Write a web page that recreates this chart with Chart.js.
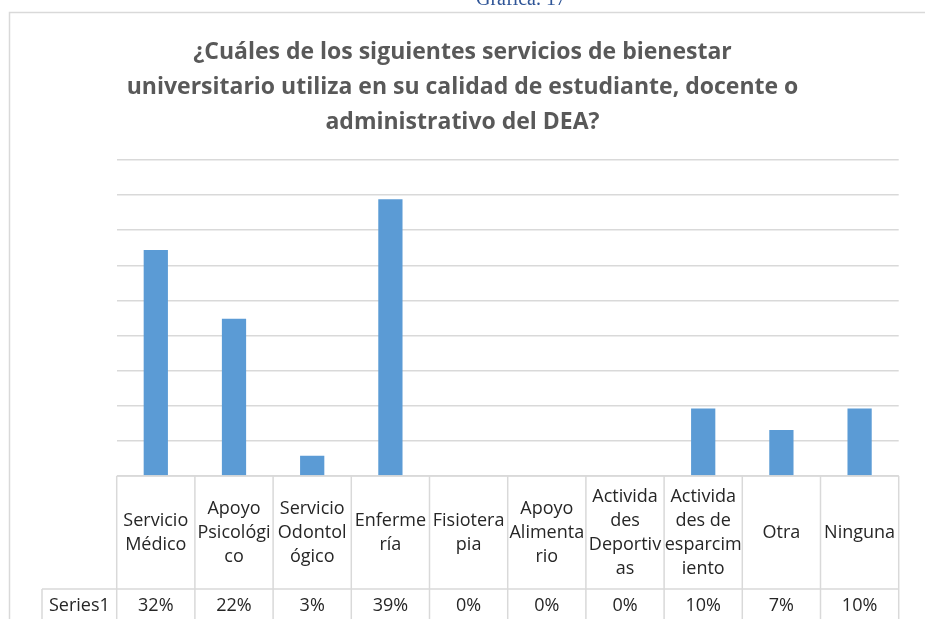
<!DOCTYPE html>
<html>
<head>
<meta charset="utf-8">
<script src="https://cdn.jsdelivr.net/npm/chart.js@4.4.0/dist/chart.umd.min.js"></script>
<style>
    html, body { margin: 0; padding: 0; background: #fff; overflow: hidden; }
    #wrap { position: relative; width: 925px; height: 619px; }
    #caption {
        position: absolute; left: 476px; top: -13px; z-index: 2;
        font-family: "Liberation Serif", serif; font-size: 20px;
        color: #2F5597; white-space: nowrap;
    }
</style>
</head>
<body>
<div id="wrap">
    <canvas id="chart" width="925" height="619"></canvas>
    <div id="caption">Gráfica. 17</div>
</div>
<script>
// Data
const categories = [
    'Servicio Médico', 'Apoyo Psicológico', 'Servicio Odontológico', 'Enfermería', 'Fisioterapia',
    'Apoyo Alimentario', 'Actividades Deportivas', 'Actividades de esparcimiento', 'Otra', 'Ninguna'
];
// how Excel wrapped each label inside its table cell
const headerLines = [
    ['Servicio', 'Médico'],
    ['Apoyo', 'Psicológi', 'co'],
    ['Servicio', 'Odontol', 'ógico'],
    ['Enferme', 'ría'],
    ['Fisiotera', 'pia'],
    ['Apoyo', 'Alimenta', 'rio'],
    ['Activida', 'des', 'Deportiv', 'as'],
    ['Activida', 'des de', 'esparcim', 'iento'],
    ['Otra'],
    ['Ninguna']
];
const seriesName = 'Series1';
const values = [32.2, 22.4, 2.9, 39.4, 0, 0, 0, 9.6, 6.55, 9.6];
const yMax = 45;
const yStep = 5;

const colors = {
    bar: '#5B9BD5',
    grid: '#D9D9D9',
    title: '#595959',
    text: '#262626'
};
const tableFont = '18px "Open Sans"';

// chart frame (Excel chart border)
const framePlugin = {
    id: 'frame',
    beforeDraw(chart) {
        const ctx = chart.ctx;
        ctx.save();
        ctx.fillStyle = '#fff';
        ctx.fillRect(0, 0, chart.width, chart.height);
        ctx.strokeStyle = colors.grid;
        ctx.lineWidth = 1.5;
        ctx.beginPath();
        ctx.moveTo(9.5, chart.height);
        ctx.lineTo(9.5, 12.5);
        ctx.lineTo(chart.width, 12.5);
        ctx.stroke();
        ctx.restore();
    }
};

// data table under the plot, columns follow the x scale
const tablePlugin = {
    id: 'dataTable',
    afterDraw(chart) {
        const ctx = chart.ctx;
        const x = chart.scales.x;
        const colW = (x.right - x.left) / categories.length;
        const headTop = chart.chartArea.bottom;
        const headBot = 589;
        const rowBot = 640;
        const labelLeft = 42;

        const line = (x1, y1, x2, y2) => {
            ctx.beginPath();
            ctx.moveTo(x1, y1);
            ctx.lineTo(x2, y2);
            ctx.stroke();
        };

        ctx.save();
        ctx.strokeStyle = colors.grid;
        ctx.lineWidth = 1.5;
        line(x.left, headTop, x.right, headTop);
        line(labelLeft, headBot, x.right, headBot);
        line(labelLeft, headBot, labelLeft, rowBot);
        for (let i = 0; i <= categories.length; i++) {
            const bx = x.left + i * colW;
            line(bx, headTop, bx, rowBot);
        }

        ctx.fillStyle = colors.text;
        ctx.font = tableFont;
        ctx.textAlign = 'center';
        ctx.textBaseline = 'middle';
        const lh = 24;
        const headMid = (headTop + headBot) / 2;
        headerLines.forEach((lines, i) => {
            const cx = x.getPixelForValue(i);
            const y0 = headMid - (lines.length - 1) * lh / 2;
            lines.forEach((t, k) => ctx.fillText(t, cx, y0 + k * lh));
        });
        const rowMid = 606;
        ctx.fillText(seriesName, (labelLeft + x.left) / 2, rowMid);
        values.forEach((v, i) => {
            ctx.fillText(Math.round(v) + '%', x.getPixelForValue(i), rowMid);
        });
        ctx.restore();
    }
};

new Chart(document.getElementById('chart').getContext('2d'), {
    type: 'bar',
    data: {
        labels: categories,
        datasets: [{
            label: seriesName,
            data: values,
            backgroundColor: colors.bar,
            borderWidth: 0,
            categoryPercentage: 1,
            barPercentage: 0.31
        }]
    },
    options: {
        responsive: false,
        animation: false,
        layout: { padding: 0 },
        plugins: {
            legend: { display: false },
            tooltip: { enabled: false },
            title: {
                display: true,
                text: [
                    '¿Cuáles de los siguientes servicios de bienestar',
                    'universitario utiliza en su calidad de estudiante, docente o',
                    'administrativo del DEA?'
                ],
                color: colors.title,
                font: { family: 'Open Sans', size: 23, weight: 'bold', lineHeight: '35px' },
                padding: { top: 34.5, bottom: 20.5 }
            }
        },
        scales: {
            x: {
                grid: { display: false },
                border: { display: false },
                ticks: { display: false },
                afterFit(scale) { scale.height = 143; }
            },
            y: {
                min: 0,
                max: yMax,
                ticks: { display: false, stepSize: yStep },
                border: { display: false },
                grid: { color: colors.grid, lineWidth: 1.5, drawTicks: false },
                afterFit(scale) { scale.width = 116.7; }
            },
            yRight: {
                position: 'right',
                min: 0,
                max: yMax,
                ticks: { display: false },
                border: { display: false },
                grid: { display: false },
                afterFit(scale) { scale.width = 26.3; }
            }
        }
    },
    plugins: [framePlugin, tablePlugin]
});
</script>
</body>
</html>
